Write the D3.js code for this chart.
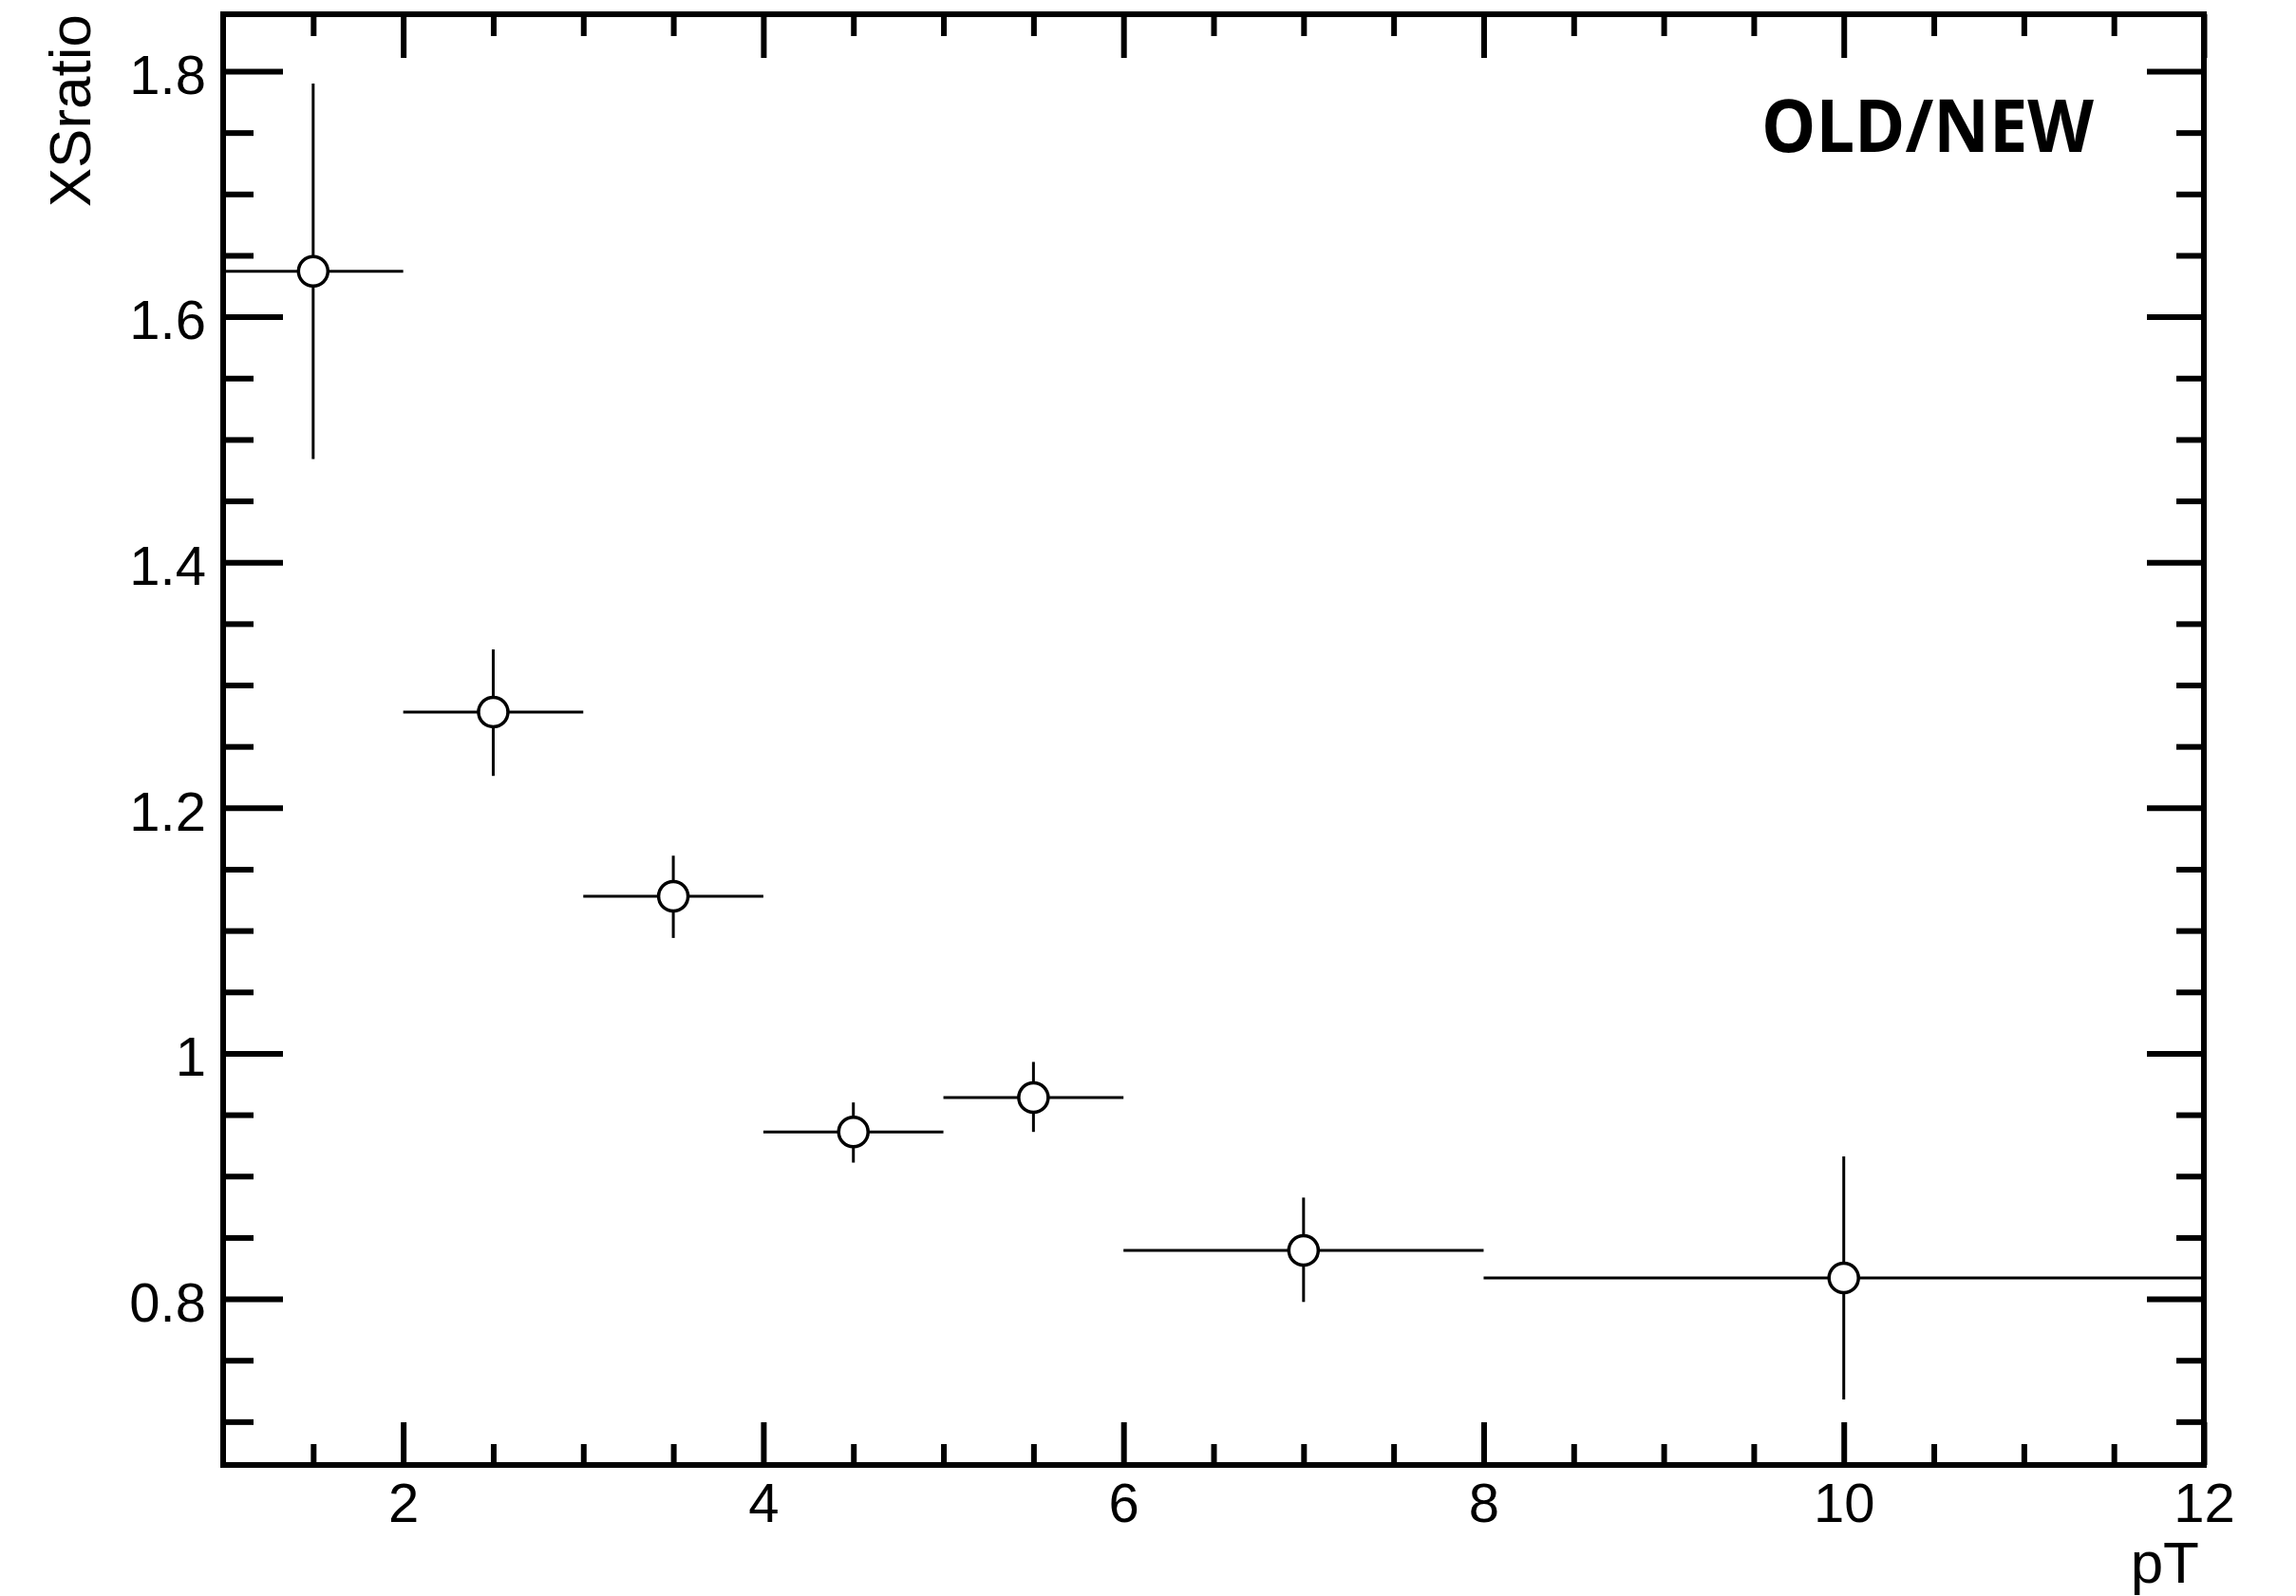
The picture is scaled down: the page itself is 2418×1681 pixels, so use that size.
<!DOCTYPE html>
<html>
<head>
<meta charset="utf-8">
<script src="https://cdn.jsdelivr.net/npm/d3@7"></script>
<style>
  html, body { margin: 0; padding: 0; background: #fff; }
  svg { display: block; }
</style>
</head>
<body>
<script>
// ---- data ----
const binLow  = [1, 2, 3, 4, 5, 6, 8];
const binHigh = [2, 3, 4, 5, 6, 8, 12];
const xCenter = [1.5, 2.5, 3.5, 4.5, 5.5, 7, 10];
const ratio   = [1.637, 1.278, 1.128, 0.936, 0.964, 0.8395, 0.817];
const errUp   = [0.153, 0.051, 0.033, 0.024, 0.029, 0.043, 0.099];
const errDown = [0.153, 0.052, 0.034, 0.025, 0.028, 0.042, 0.099];

const xMajorTicks = [2, 4, 6, 8, 10, 12];
const xTickLabels = ["2", "4", "6", "8", "10", "12"];
const xMinorTicks = [1.5, 2.5, 3, 3.5, 4.5, 5, 5.5, 6.5, 7, 7.5, 8.5, 9, 9.5, 10.5, 11, 11.5];
const yMajorTicks = [0.8, 1.0, 1.2, 1.4, 1.6, 1.8];
const yTickLabels = ["0.8", "1", "1.2", "1.4", "1.6", "1.8"];
const yMinorTicks = [0.7, 0.75, 0.85, 0.9, 0.95, 1.05, 1.1, 1.15, 1.25, 1.3, 1.35, 1.45, 1.5, 1.55, 1.65, 1.7, 1.75];

const xDomain = [1, 12];
const yDomain = [0.6647, 1.8464];
const xTitle = "pT";
const yTitle = "XSratio";
const label = "OLD/NEW";

// ---- layout ----
const W = 2418, H = 1681;
const L = 235, R = 2321, T = 15, B = 1543;
const font = "'Liberation Sans', Arial, Helvetica, sans-serif";

const svg = d3.select("body").append("svg").attr("width", W).attr("height", H);

const x = d3.scaleLinear().domain(xDomain).range([L, R]);
const y = d3.scaleLinear().domain(yDomain).range([B, T]);

function styleAxis(g) {
  g.select(".domain").remove();
  g.selectAll(".tick line").attr("stroke", "#000").attr("stroke-width", 6);
  g.selectAll("text").attr("font-family", font).attr("font-size", 58).attr("fill", "#000");
}

// bottom axis major
svg.append("g").attr("transform", `translate(0,${B})`)
  .call(d3.axisBottom(x).tickValues(xMajorTicks).tickSize(-45).tickPadding(19)
    .tickFormat((d, i) => xTickLabels[i]))
  .call(styleAxis);
svg.append("g").attr("transform", `translate(0,${B})`)
  .call(d3.axisBottom(x).tickValues(xMinorTicks).tickSize(-22).tickFormat(""))
  .call(styleAxis);
// top axis
svg.append("g").attr("transform", `translate(0,${T})`)
  .call(d3.axisTop(x).tickValues(xMajorTicks).tickSize(-46).tickFormat(""))
  .call(styleAxis);
svg.append("g").attr("transform", `translate(0,${T})`)
  .call(d3.axisTop(x).tickValues(xMinorTicks).tickSize(-23).tickFormat(""))
  .call(styleAxis);
// left axis
svg.append("g").attr("transform", `translate(${L},0)`)
  .call(d3.axisLeft(y).tickValues(yMajorTicks).tickSize(-63).tickPadding(18)
    .tickFormat((d, i) => yTickLabels[i]))
  .call(styleAxis)
  .call(g => g.selectAll("text").attr("dy", "0.4em"));
svg.append("g").attr("transform", `translate(${L},0)`)
  .call(d3.axisLeft(y).tickValues(yMinorTicks).tickSize(-32).tickFormat(""))
  .call(styleAxis);
// right axis
svg.append("g").attr("transform", `translate(${R},0)`)
  .call(d3.axisRight(y).tickValues(yMajorTicks).tickSize(-60).tickFormat(""))
  .call(styleAxis);
svg.append("g").attr("transform", `translate(${R},0)`)
  .call(d3.axisRight(y).tickValues(yMinorTicks).tickSize(-29).tickFormat(""))
  .call(styleAxis);

// ---- data marks ----
const idx = d3.range(ratio.length);
const pts = svg.append("g");
pts.selectAll("line.h").data(idx).join("line").attr("class", "h")
  .attr("x1", i => x(binLow[i])).attr("x2", i => x(binHigh[i]))
  .attr("y1", i => y(ratio[i])).attr("y2", i => y(ratio[i]))
  .attr("stroke", "#000").attr("stroke-width", 3);
pts.selectAll("line.v").data(idx).join("line").attr("class", "v")
  .attr("x1", i => x(xCenter[i])).attr("x2", i => x(xCenter[i]))
  .attr("y1", i => y(ratio[i] + errUp[i])).attr("y2", i => y(ratio[i] - errDown[i]))
  .attr("stroke", "#000").attr("stroke-width", 3);
pts.selectAll("circle").data(idx).join("circle")
  .attr("cx", i => x(xCenter[i])).attr("cy", i => y(ratio[i]))
  .attr("r", 15.5).attr("fill", "#fff").attr("stroke", "#000").attr("stroke-width", 3.5);

// ---- frame ----
svg.append("rect").attr("x", L).attr("y", T).attr("width", R - L).attr("height", B - T)
  .attr("fill", "none").attr("stroke", "#000").attr("stroke-width", 6);

// ---- titles ----
svg.append("text").attr("x", 2316).attr("y", 1667).attr("text-anchor", "end")
  .attr("font-family", font).attr("font-size", 62).attr("fill", "#000").text(xTitle);
svg.append("text").attr("transform", "translate(95,15) rotate(-90)").attr("text-anchor", "end")
  .attr("font-family", font).attr("font-size", 62).attr("fill", "#000").text(yTitle);

svg.append("text").attr("x", 1855).attr("y", 160)
  .attr("font-family", "'Open Sans', 'Noto Sans', sans-serif").attr("font-weight", 700)
  .attr("font-size", 77).attr("fill", "#000")
  .attr("textLength", 350).attr("lengthAdjust", "spacingAndGlyphs")
  .text(label);
</script>
</body>
</html>
